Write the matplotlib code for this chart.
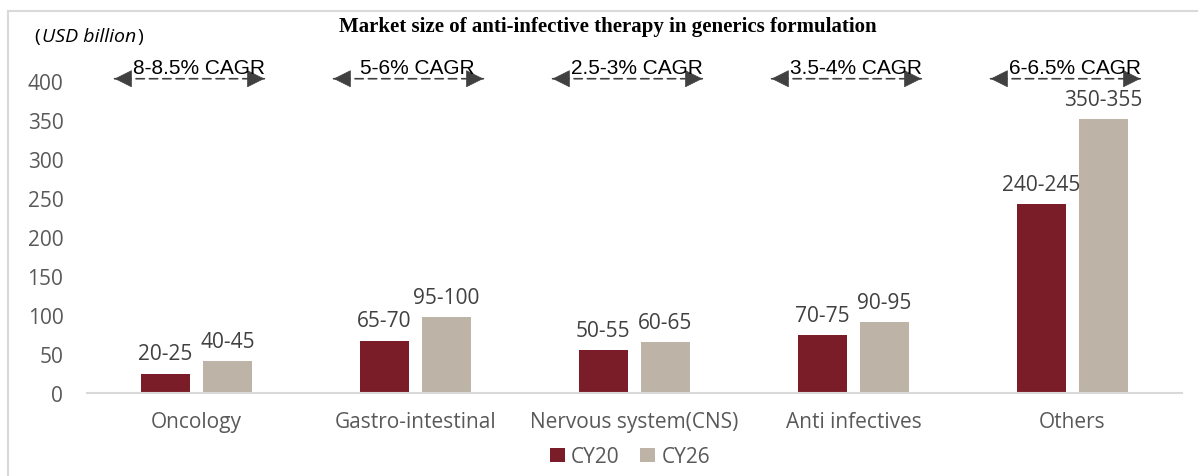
import numpy as np
import matplotlib
matplotlib.use("Agg")
import matplotlib.pyplot as plt
from matplotlib.lines import Line2D

# data
categories = ["Oncology", "Gastro-intestinal", "Nervous system(CNS)", "Anti infectives", "Others"]
cy20 = [25, 67, 55, 74, 242]
cy26 = [41, 97, 65, 91, 351]
cy20_labels = ["20-25", "65-70", "50-55", "70-75", "240-245"]
cy26_labels = ["40-45", "95-100", "60-65", "90-95", "350-355"]
cagr_labels = ["8-8.5% CAGR", "5-6% CAGR", "2.5-3% CAGR", "3.5-4% CAGR", "6-6.5% CAGR"]

c20 = "#7a1d29"
c26 = "#bdb4a7"
txt = "#404040"
tick = "#595959"
font = "Open Sans"
fs = 15

fig = plt.figure(figsize=(11.98, 4.77), dpi=100)
ax = fig.add_axes([0.0726, 0.174, 0.914, 0.703])

x = np.arange(len(categories))
w = 0.224
off = 0.142
b1 = ax.bar(x - off, cy20, w, color=c20, label="CY20")
b2 = ax.bar(x + off, cy26, w, color=c26, label="CY26")

for rect, lab in zip(b1, cy20_labels):
    ax.text(rect.get_x() + rect.get_width() / 2, rect.get_height() + 12, lab,
            ha="center", va="bottom", fontsize=fs, color=txt, family=font)
for rect, lab in zip(b2, cy26_labels):
    ax.text(rect.get_x() + rect.get_width() / 2, rect.get_height() + 12, lab,
            ha="center", va="bottom", fontsize=fs, color=txt, family=font)

# CAGR arrows: dashed shaft + solid heads
ay = 403
for xi, lab in zip(x, cagr_labels):
    xc = xi - 0.032
    ax.annotate("", xy=(xc - 0.342, ay), xytext=(xc + 0.342, ay),
                arrowprops=dict(arrowstyle="-", color="#404040", lw=1.2,
                                linestyle=(0, (5, 3)), shrinkA=0, shrinkB=0),
                annotation_clip=False)
    for a, b in [(xc - 0.342, xc - 0.27), (xc + 0.342, xc + 0.27)]:
        ax.annotate("", xy=(a, ay), xytext=(b, ay),
                    arrowprops=dict(arrowstyle="-|>,head_length=1.1,head_width=0.55",
                                    mutation_scale=10.5, color="#404040", lw=0.5,
                                    shrinkA=0, shrinkB=0),
                    annotation_clip=False)
    ax.text(xi + 0.01, 410, lab, ha="center", va="baseline", fontsize=15,
            color="black", family="Liberation Sans")

ax.set_xlim(-0.5, len(categories) - 0.5)
ax.set_ylim(0, 430)
ax.set_yticks(np.arange(0, 401, 50))
ax.set_xticks(x)
ax.set_xticklabels(categories)
for lab in ax.get_xticklabels() + ax.get_yticklabels():
    lab.set_family(font)
    lab.set_fontsize(fs)
    lab.set_color(tick)
ax.tick_params(axis="y", length=0, pad=17)
ax.tick_params(axis="x", length=0, pad=13)
for s in ["top", "right", "left"]:
    ax.spines[s].set_visible(False)
ax.spines["bottom"].set_color("#d9d9d9")
ax.spines["bottom"].set_linewidth(1.5)

leg = ax.legend(loc="center", bbox_to_anchor=(0.496, -0.19), ncol=2, frameon=False,
                handlelength=0.7, handleheight=0.7, handletextpad=0.3, columnspacing=1.0,
                prop={"family": font, "size": fs})
for t in leg.get_texts():
    t.set_color(tick)

fig.text(0.507, 0.943, "Market size of anti-infective therapy in generics formulation",
         ha="center", va="center", fontsize=15, fontweight="bold", family="Liberation Serif")

# unit label: "(" + italic "USD billion" + ")"
fig.canvas.draw()
r = fig.canvas.get_renderer()
t1 = fig.text(0.029, 0.922, "(", ha="left", va="center", fontsize=14, color="black", family=font)
bb = t1.get_window_extent(r)
t2 = fig.text(bb.x1 / fig.bbox.width + 0.001, 0.922, "USD billion", ha="left", va="center",
              fontsize=14, style="italic", color="black", family=font)
bb = t2.get_window_extent(r)
fig.text(bb.x1 / fig.bbox.width + 0.001, 0.922, ")", ha="left", va="center", fontsize=14,
         color="black", family=font)

# outer frame
fig.add_artist(Line2D([0.0067, 0.0067], [0, 0.975], color="#d9d9d9", lw=1.5))
fig.add_artist(Line2D([0.0067, 1.0], [0.975, 0.975], color="#d9d9d9", lw=1.5))

fig.savefig("out.png", dpi=100)
